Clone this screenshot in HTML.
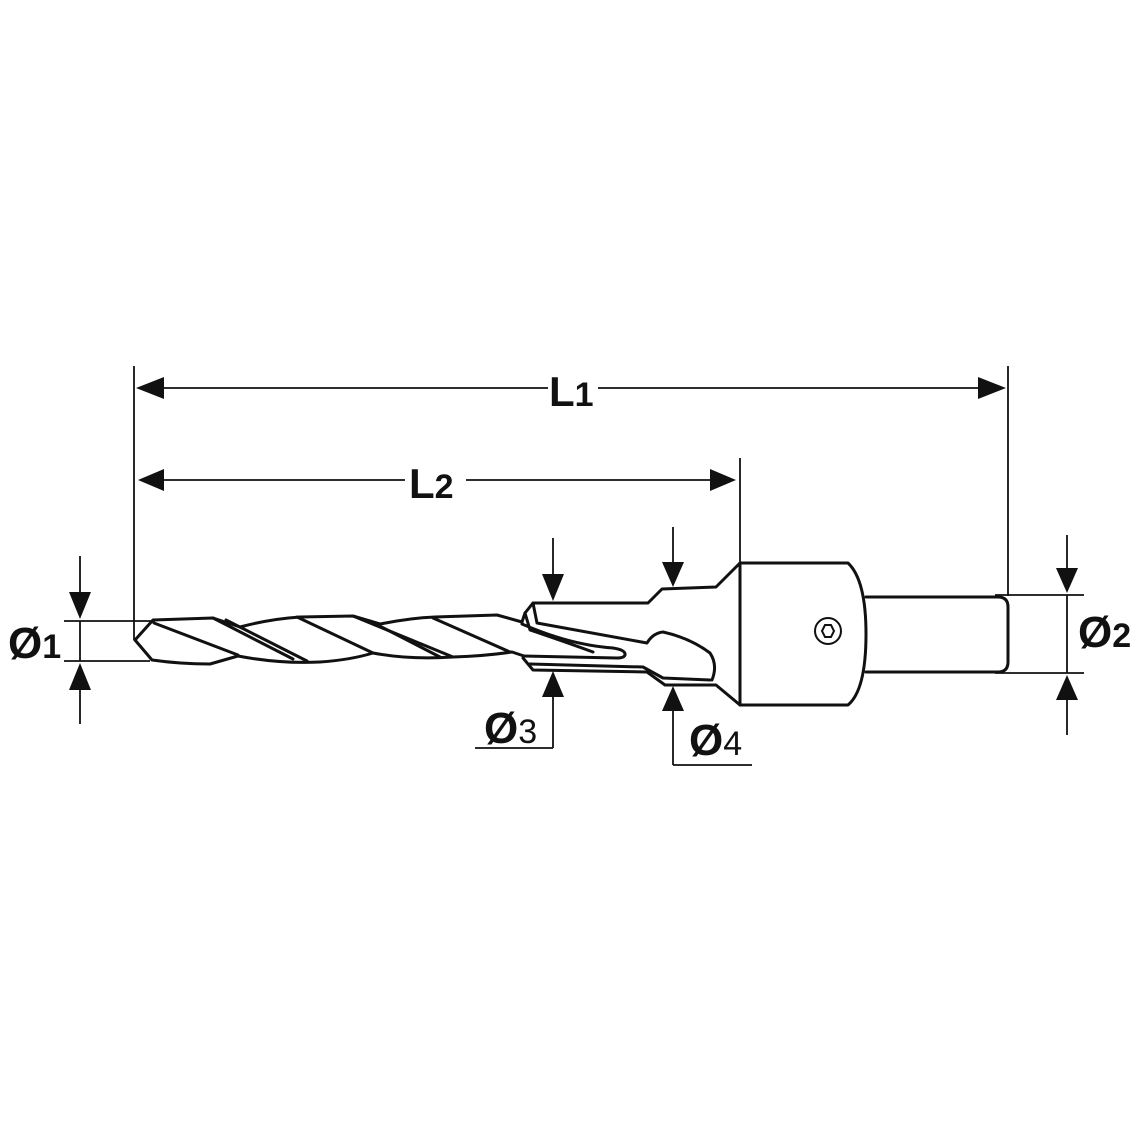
<!DOCTYPE html>
<html><head><style>html,body{margin:0;padding:0;background:#fff}svg{display:block}</style></head>
<body>
<svg width="1146" height="1146" viewBox="0 0 1146 1146" xmlns="http://www.w3.org/2000/svg">
<g stroke="#111" fill="none" stroke-width="1.8">
<!-- extension lines -->
<line x1="134" y1="366" x2="134" y2="640"/>
<line x1="1008" y1="366" x2="1008" y2="596"/>
<line x1="740" y1="458" x2="740" y2="563"/>
<line x1="64" y1="621" x2="155" y2="621"/>
<line x1="64" y1="661" x2="150" y2="661"/>
<line x1="995" y1="595" x2="1084" y2="595"/>
<line x1="995" y1="673" x2="1084" y2="673"/>
<!-- L1 -->
<line x1="160" y1="388" x2="548" y2="388"/>
<line x1="598" y1="388" x2="984" y2="388"/>
<!-- L2 -->
<line x1="160" y1="480" x2="405" y2="480"/>
<line x1="466" y1="480" x2="712" y2="480"/>
<!-- Ø1 -->
<line x1="80" y1="556" x2="80" y2="600"/>
<line x1="80" y1="682" x2="80" y2="724"/>
<line x1="80" y1="621" x2="80" y2="661"/>
<!-- Ø2 -->
<line x1="1067" y1="535" x2="1067" y2="575"/>
<line x1="1067" y1="693" x2="1067" y2="735"/>
<line x1="1067" y1="595" x2="1067" y2="673"/>
<!-- Ø3 -->
<line x1="553" y1="538" x2="553" y2="580"/>
<line x1="553" y1="690" x2="553" y2="748"/>
<line x1="475" y1="748" x2="553" y2="748"/>
<!-- Ø4 -->
<line x1="673" y1="527" x2="673" y2="568"/>
<line x1="673" y1="706" x2="673" y2="765"/>
<line x1="673" y1="765" x2="752" y2="765"/>
</g>
<g fill="#111">
<polygon points="136,388 164,377 164,399"/>
<polygon points="1006,388 978,377 978,399"/>
<polygon points="138,480 164,469 164,491"/>
<polygon points="736,480 710,469 710,491"/>
<polygon points="80,619 69,592 91,592"/>
<polygon points="80,663 69,690 91,690"/>
<polygon points="1067,593 1056,568 1078,568"/>
<polygon points="1067,675 1056,700 1078,700"/>
<polygon points="553,601 542,574 564,574"/>
<polygon points="553,671 542,697 564,697"/>
<polygon points="673,587 662,562 684,562"/>
<polygon points="673,686 662,711 684,711"/>
</g>
<g font-family="Liberation Sans, sans-serif" font-weight="bold" fill="#111">
<text x="549" y="406" font-size="42">L<tspan font-size="34">1</tspan></text>
<text x="409" y="498" font-size="42">L<tspan font-size="34">2</tspan></text>
<text x="8" y="658" font-size="44" font-weight="normal" style="font-weight:600">Ø<tspan font-size="34">1</tspan></text>
<text x="1078" y="647" font-size="44" style="font-weight:600">Ø<tspan font-size="34">2</tspan></text>
<text x="484" y="743" font-size="44" style="font-weight:600">Ø<tspan font-size="34" font-weight="normal">3</tspan></text>
<text x="689" y="755" font-size="44" style="font-weight:600">Ø<tspan font-size="34" font-weight="normal">4</tspan></text>
</g>
<g stroke="#111" fill="none" stroke-width="3" stroke-linejoin="round" stroke-linecap="round">
<!-- drill body outline -->
<path d="M135,640 L153,620 L213,618 L240,627 Q270,619 300,617 L353,616 L380,624 Q410,618 435,617 L497,615 L522,622"/>
<path d="M135,640 L152,660 Q180,664 210,664 L238,656 Q280,664 320,662 Q350,660 373,653 Q410,660 453,657 Q485,656 512,652 L524,656"/>
<!-- flutes -->
<path d="M154,623 L238,655"/>
<path d="M213,618 L293,659"/>
<path d="M226,620 L307,661"/>
<path d="M297,617 L373,653"/>
<path d="M353,616 L453,657"/>
<path d="M370,621 L440,657"/>
<path d="M433,618 L510,652"/>
<!-- step section -->
<path d="M522,622 L525,613 L533,603 L648,603 L662,589 L716,587 L740,563"/>
<path d="M533,603 L537,623 L647,643 Q653,633 663,632 Q690,638 710,653 Q718,665 712,680"/>
<path d="M525,613 L530,630 Q560,640 593,652"/>
<path d="M522,624 Q570,645 613,648 Q626,650 625,655 Q624,658 617,658 L523,656"/>
<path d="M523,658 L528,664 L533,670 L647,672 L665,685 L716,685 L740,705"/>
<path d="M530,664 L643,667 L663,678 L710,680"/>
<!-- collar -->
<path d="M740,563 L740,705 L848,705 Q866,690 866,634 Q866,580 848,563 Z"/>
<!-- shank -->
<path d="M866,597 L998,597 Q1008,597 1008,607 L1008,662 Q1008,672 998,672 L866,672"/>
</g>
<g stroke="#111" fill="none" stroke-width="2">
<circle cx="828" cy="631" r="13"/>
<polygon points="822,631 825,625 831,625 834,631 831,637 825,637"/>
</g>
</svg>
</body></html>
